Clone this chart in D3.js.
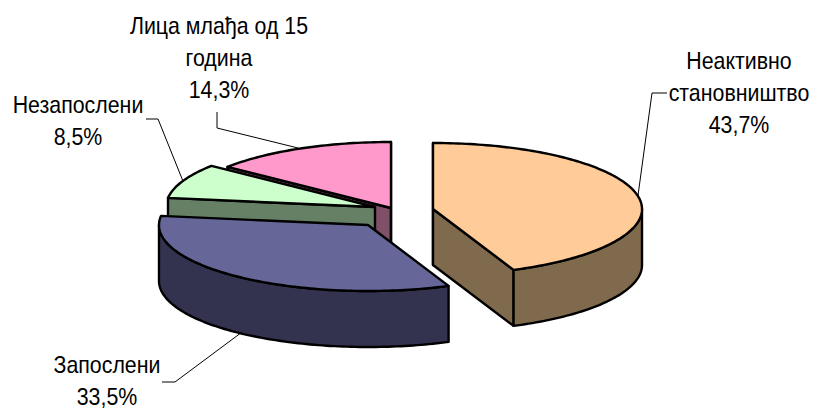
<!DOCTYPE html>
<html>
<head>
<meta charset="utf-8">
<script src="https://cdn.jsdelivr.net/npm/d3@7"></script>
<style>
  html, body { margin: 0; padding: 0; background: #fff; }
  svg { display: block; }
  text { font-family: "Liberation Sans", Arial, sans-serif; font-size: 24px; fill: #000; }
</style>
</head>
<body>
<div id="chart"><svg></svg></div>
<script>
// chart values, clockwise from 12 o'clock
var categories = ["Неактивно становништво", "Запослени", "Незапослени", "Лица млађа од 15 година"];
var values = [43.7, 33.5, 8.5, 14.3];
var valueLabels = ["43,7%", "33,5%", "8,5%", "14,3%"];

var width = 813;
var height = 409;
var rx = 209;
var ry = 66;
var depth = 56;
var xSquash = 0.89;
var lineHeight = 32;

var topColors = ["#FFCC99", "#666699", "#CCFFCC", "#FF99CC"];
var sideColors = ["#806A4E", "#33334F", "#668066", "#804F68"];

// where each exploded slice has its tip
var centers = [[433, 209], [368, 225], [375, 207], [391, 208]];

// label lines, centre x and first baseline, leader start and elbow
var labelLines = [
  ["Неактивно", "становништво", valueLabels[0]],
  ["Запослени", valueLabels[1]],
  ["Незапослени", valueLabels[2]],
  ["Лица млађа од 15", "година", valueLabels[3]]
];
var labelPos = [[739, 69], [107, 373], [78, 113], [219, 34]];
var leaders = [
  { start: [667, 93], elbow: [652, 93] },
  { start: [162, 382], elbow: [175, 382] },
  { start: [146, 119], elbow: [158, 119] },
  { start: [217, 112], elbow: [217, 128] }
];

var svg = d3.select("#chart").select("svg").attr("width", width).attr("height", height);

var slices = d3.pie().sort(null).value(function(d) { return d; })(values);

// angle in radians on the tilted ellipse, 0 is up
function project(c, a, drop) {
  return [c[0] + rx * Math.sin(a), c[1] - ry * Math.cos(a) + (drop || 0)];
}

function arcPoints(c, a0, a1, drop) {
  var n = Math.max(2, Math.ceil(Math.abs(a1 - a0) / 0.02));
  return d3.range(n + 1).map(function(i) {
    return project(c, a0 + (a1 - a0) * i / n, drop);
  });
}

var line = d3.line();

function addFace(g, pts, fill) {
  g.append("path")
    .attr("d", line(pts) + "Z")
    .attr("fill", fill)
    .attr("stroke", "#000")
    .attr("stroke-width", 2.4)
    .attr("stroke-linejoin", "round");
}

// back slices first so the front ones cover them
var order = [3, 2, 1, 0];
order.forEach(function(i) {
  var s = slices[i];
  var c = centers[i];
  var g = svg.append("g").attr("class", "slice").datum(categories[i]);
  var tipLow = [c[0], c[1] + depth];

  // side walls on the two cut edges, only the ones facing the viewer
  [[s.startAngle, s.startAngle - Math.PI / 2], [s.endAngle, s.endAngle + Math.PI / 2]].forEach(function(e) {
    if (Math.cos(e[1]) < 0.01) {
      addFace(g, [c, project(c, e[0]), project(c, e[0], depth), tipLow], sideColors[i]);
    }
  });

  // outer wall for the part of the rim on the near side
  var a0 = Math.max(s.startAngle, Math.PI / 2);
  var a1 = Math.min(s.endAngle, Math.PI * 3 / 2);
  if (a1 > a0) {
    addFace(g, arcPoints(c, a0, a1, 0).concat(arcPoints(c, a1, a0, depth)), sideColors[i]);
  }

  addFace(g, [c].concat(arcPoints(c, s.startAngle, s.endAngle, 0)), topColors[i]);
});

// leader lines end on the rim at the middle of the slice
slices.forEach(function(s, i) {
  var mid = (s.startAngle + s.endAngle) / 2;
  var drop = Math.cos(mid) < 0 ? depth : 0;
  svg.append("path")
    .attr("d", line([leaders[i].start, leaders[i].elbow, project(centers[i], mid, drop)]))
    .attr("fill", "none")
    .attr("stroke", "#000")
    .attr("stroke-width", 1);
});

labelLines.forEach(function(lines, i) {
  lines.forEach(function(t, j) {
    svg.append("text")
      .attr("transform", "translate(" + labelPos[i][0] + "," + (labelPos[i][1] + j * lineHeight) + ") scale(" + xSquash + ",1)")
      .attr("text-anchor", "middle")
      .text(t);
  });
});
</script>
</body>
</html>
